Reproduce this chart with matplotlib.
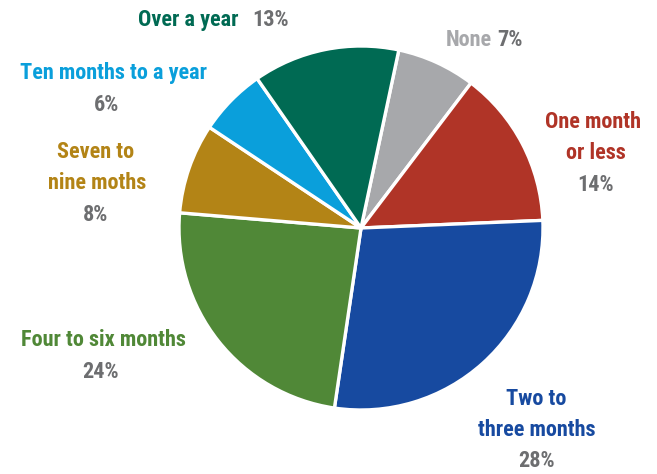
import matplotlib.pyplot as plt
from matplotlib import font_manager

# slices, clockwise from the top
labels = ["None", "One month or less", "Two to three months", "Four to six months",
          "Seven to nine moths", "Ten months to a year", "Over a year"]
values = [7, 14, 28, 24, 8, 6, 13]
colors = ["#A7A8AB", "#B03427", "#174AA0", "#508837", "#B38416", "#0A9FDB", "#006A53"]
pct_color = "#6D6E70"

# look for a condensed bold face
fonts = font_manager.fontManager.ttflist
fam, stretch, fs = "Roboto", "normal", 14.5
names = {f.name for f in fonts}
for c in ["Roboto Condensed", "Open Sans Condensed", "Liberation Sans Narrow", "Arial Narrow"]:
    if c in names:
        fam, stretch, fs = c, "normal", 16
        break
else:
    for f in fonts:
        if f.name == "DejaVu Sans" and "ondensed" in f.fname and "Bold" in f.fname:
            fam, stretch, fs = "DejaVu Sans", "condensed", 15
            break
plt.rcParams["font.family"] = [fam, "DejaVu Sans"]

W, H = 657, 474
fig = plt.figure(figsize=(W / 100, H / 100), dpi=100)

cx, cy, r = 361, 228, 182
ax = fig.add_axes([(cx - r) / W, (H - cy - r) / H, 2 * r / W, 2 * r / H])
ax.pie(values, colors=colors, startangle=78, counterclock=False,
       wedgeprops=dict(edgecolor="white", linewidth=2.4))
ax.set_xlim(-1, 1)
ax.set_ylim(-1, 1)
ax.axis("off")


def put(x, y, s, color, ha="center"):
    fig.text(x / W, 1 - y / H, s, color=color, fontsize=fs, ha=ha, va="center",
             fontweight="bold", fontstretch=stretch)


# Over a year / None on one line with percentage
put(238, 20, "Over a year", colors[6], ha="right")
put(252, 20, "13%", pct_color, ha="left")
put(492, 40, "None", colors[0], ha="right")
put(497, 40, "7%", pct_color, ha="left")

put(593, 122, "One month", colors[1])
put(596, 153, "or less", colors[1])
put(596, 185, "14%", pct_color)

put(114, 73, "Ten months to a year", colors[5])
put(107, 105, "6%", pct_color)

put(96, 152, "Seven to", colors[4])
put(97, 183, "nine moths", colors[4])
put(96, 215, "8%", pct_color)

put(103, 340, "Four to six months", colors[3])
put(101, 372, "24%", pct_color)

put(536, 399, "Two to", colors[2])
put(537, 430, "three months", colors[2])
put(537, 461, "28%", pct_color)

fig.savefig("out.png", dpi=100)
